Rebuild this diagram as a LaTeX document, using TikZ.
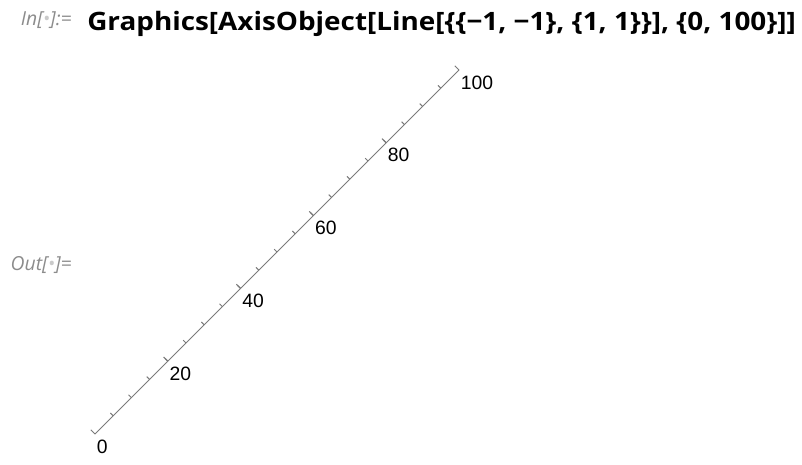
\documentclass[tikz,border=0pt]{standalone}
\usepackage{fontspec}
\setmainfont{Liberation Sans}
\newfontfamily\codefont{Open Sans}
\usetikzlibrary{calc}
\definecolor{AxGray}{HTML}{7A7A7A}
\definecolor{PromptGray}{HTML}{8C8C8C}
\definecolor{DotGray}{HTML}{CACACA}
\definecolor{CodeInk}{HTML}{000000}
\tikzset{
  codetitle/.style={font=\codefont\bfseries\fontsize{19}{22}\selectfont, text=CodeInk, inner sep=0pt, anchor=base west},
  prompt/.style={font=\codefont\itshape\fontsize{14.5}{16}\selectfont, text=PromptGray, inner sep=0pt, anchor=base east},
  ticklabel/.style={font=\fontsize{14.5}{16}\selectfont, text=CodeInk, inner sep=0pt, anchor=west},
  axisline/.style={draw=AxGray, line width=0.75pt},
  axistick/.style={draw=AxGray, line width=0.75pt}
}
\newcommand{\promptdot}{\textcolor{DotGray}{\textbullet}}

\begin{document}
\begin{tikzpicture}[x=0.75pt, y=-0.75pt]
\useasboundingbox[fill=white] (0,0) rectangle (802,464);
\node[prompt] (inlabel) at (72,25) {In[\promptdot]:=};
\node[codetitle] (code) at (87,31) {\scalebox{1.1}[1]{Graphics[AxisObject[Line[\{\{\textminus1, \textminus1\}, \{1, 1\}\}], \{0, 100\}]]}};
\node[prompt] (outlabel) at (72,270) {Out[\promptdot]=};
% the axis
\coordinate (ax0) at (95,434);
\coordinate (ax100) at (459,70);
\draw[axisline] (ax0) -- (ax100);
\foreach \v in {5,10,...,95}
  \draw[axistick] ($(ax0)!\v/100!(ax100)$) -- ++(-2.8,-2.8);
\foreach \v in {0,20,...,100}{
  \coordinate (tk\v) at ($(ax0)!\v/100!(ax100)$);
  \draw[axistick] (tk\v) -- ++(-4.2,-4.2);
  \node[ticklabel] (lab\v) at ($(tk\v)+(1.5,12.5)$) {\v};
}
\end{tikzpicture}
\end{document}
